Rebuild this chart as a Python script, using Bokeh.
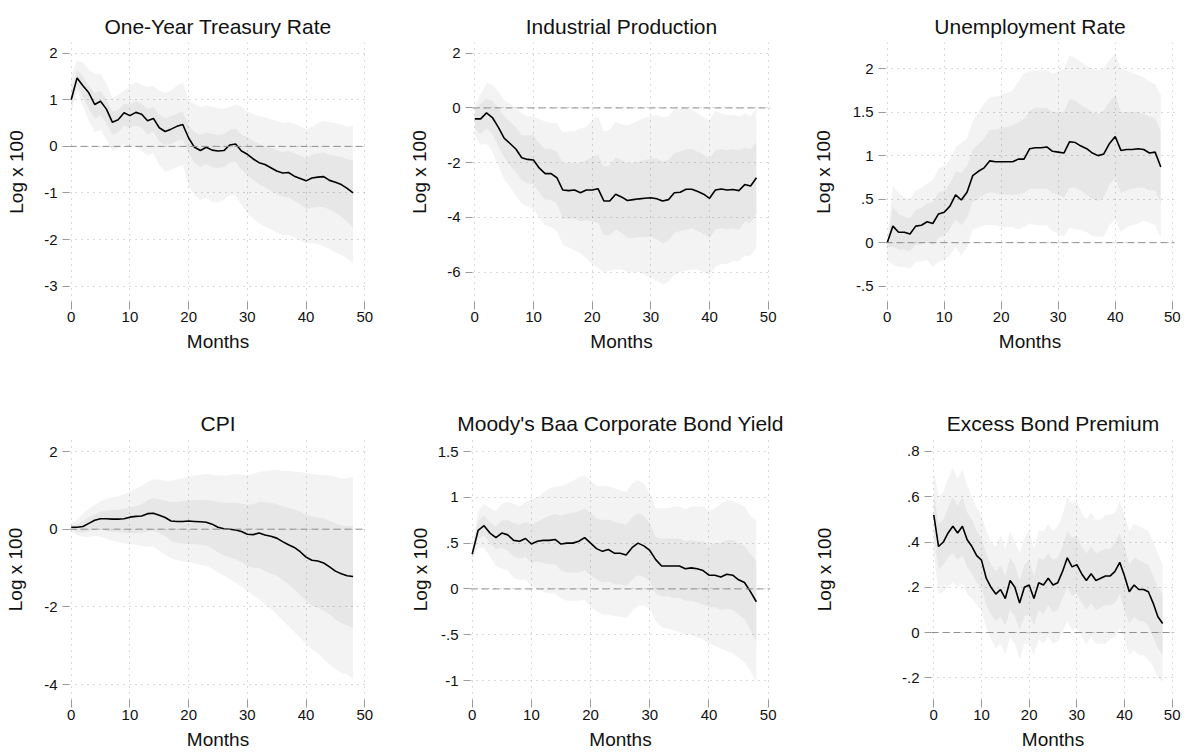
from bokeh.plotting import figure
from bokeh.layouts import column, row
from bokeh.models import FixedTicker, Span, Range1d
from bokeh.embed import file_html
from bokeh.resources import INLINE

months = list(range(49))

# One-Year Treasury Rate
tr_irf = [1.0, 1.47, 1.3, 1.15, 0.9, 0.97, 0.8, 0.52, 0.57, 0.72, 0.66, 0.73, 0.69, 0.55, 0.6, 0.4,
          0.32, 0.37, 0.43, 0.47, 0.18, -0.02, -0.09, -0.02, -0.08, -0.1, -0.09, 0.03, 0.05, -0.1,
          -0.17, -0.27, -0.35, -0.39, -0.46, -0.53, -0.57, -0.56, -0.64, -0.69, -0.74, -0.68, -0.66,
          -0.65, -0.73, -0.77, -0.82, -0.9, -1.0]
tr_hi90 = [1.5, 1.85, 1.8, 1.65, 1.55, 1.55, 1.35, 1.05, 1.1, 1.2, 1.3, 1.38, 1.32, 1.28, 1.3, 1.2,
           1.15, 1.2, 1.3, 1.37, 1.0, 0.9, 0.85, 0.88, 0.85, 0.82, 0.8, 0.85, 0.9, 0.85, 0.75, 0.7,
           0.65, 0.62, 0.58, 0.55, 0.5, 0.52, 0.48, 0.43, 0.37, 0.42, 0.5, 0.55, 0.52, 0.5, 0.47,
           0.42, 0.45]
tr_lo90 = [0.7, 1.2, 0.85, 0.55, 0.3, 0.35, 0.15, -0.1, -0.05, 0.05, -0.02, 0.0, -0.1, -0.2, -0.15,
           -0.4, -0.55, -0.5, -0.45, -0.4, -0.85, -1.05, -1.15, -1.1, -1.2, -1.2, -1.15, -1.05, -1.05,
           -1.25, -1.45, -1.55, -1.65, -1.72, -1.78, -1.85, -1.9, -1.9, -1.95, -2.02, -2.08, -2.07,
           -2.1, -2.15, -2.2, -2.28, -2.33, -2.42, -2.5]
tr_hi68 = [1.2, 1.65, 1.5, 1.3, 1.15, 1.2, 1.0, 0.75, 0.78, 0.92, 0.9, 0.97, 0.92, 0.8, 0.85, 0.68,
           0.6, 0.65, 0.7, 0.75, 0.45, 0.3, 0.25, 0.3, 0.27, 0.25, 0.27, 0.35, 0.38, 0.25, 0.2, 0.12,
           0.05, 0.02, -0.03, -0.08, -0.12, -0.1, -0.15, -0.2, -0.25, -0.18, -0.15, -0.13, -0.18,
           -0.2, -0.22, -0.27, -0.3]
tr_lo68 = [0.85, 1.3, 1.05, 0.8, 0.6, 0.65, 0.5, 0.25, 0.3, 0.45, 0.4, 0.45, 0.4, 0.25, 0.32, 0.1,
           0.02, 0.05, 0.12, 0.15, -0.15, -0.35, -0.45, -0.38, -0.45, -0.47, -0.45, -0.35, -0.33,
           -0.5, -0.62, -0.72, -0.82, -0.88, -0.95, -1.02, -1.08, -1.1, -1.18, -1.25, -1.35, -1.32,
           -1.3, -1.3, -1.36, -1.42, -1.5, -1.62, -1.75]

# Industrial Production
ip_irf = [-0.4, -0.4, -0.18, -0.35, -0.7, -1.1, -1.3, -1.5, -1.82, -1.88, -1.9, -2.2, -2.4, -2.4,
          -2.55, -3.0, -3.02, -3.0, -3.1, -3.0, -3.0, -2.95, -3.4, -3.4, -3.15, -3.25, -3.38, -3.35,
          -3.32, -3.3, -3.28, -3.32, -3.4, -3.35, -3.1, -3.08, -2.97, -2.97, -3.05, -3.15, -3.3,
          -3.0, -2.96, -3.0, -2.98, -3.02, -2.8, -2.85, -2.55]
ip_hi90 = [0.1, 0.5, 0.9, 0.85, 0.6, 0.3, 0.15, 0.0, -0.2, -0.3, -0.3, -0.4, -0.5, -0.55, -0.55,
           -0.9, -0.85, -0.85, -0.75, -0.7, -0.45, -0.3, -0.85, -0.8, -0.5, -0.6, -0.65, -0.55,
           -0.45, -0.35, -0.3, -0.25, -0.35, -0.3, -0.05, 0.0, 0.0, -0.05, -0.2, -0.35, -0.45, -0.1,
           -0.2, -0.25, -0.25, -0.3, -0.2, -0.3, 0.0]
ip_lo90 = [-1.0, -1.35, -1.3, -1.6, -2.1, -2.6, -2.9, -3.2, -3.5, -3.6, -3.7, -4.0, -4.3, -4.35,
           -4.5, -5.0, -5.1, -5.2, -5.3, -5.5, -5.7, -5.85, -6.0, -5.95, -5.9, -5.9, -6.0, -6.0,
           -6.0, -6.1, -6.2, -6.3, -6.45, -6.35, -6.1, -6.0, -5.95, -5.9, -5.9, -6.0, -6.1, -5.8,
           -5.7, -5.7, -5.6, -5.6, -5.4, -5.4, -5.1]
ip_hi68 = [-0.05, 0.15, 0.35, 0.25, 0.0, -0.3, -0.5, -0.7, -1.0, -1.0, -1.0, -1.3, -1.5, -1.5,
           -1.6, -2.0, -2.0, -2.0, -2.0, -1.9, -1.8, -1.7, -2.15, -2.1, -1.8, -1.9, -2.0, -2.0,
           -1.95, -1.9, -1.85, -1.85, -1.95, -1.9, -1.65, -1.6, -1.5, -1.5, -1.6, -1.7, -1.85,
           -1.55, -1.5, -1.55, -1.5, -1.55, -1.45, -1.5, -1.25]
ip_lo68 = [-0.75, -0.95, -0.75, -0.95, -1.4, -1.8, -2.1, -2.35, -2.65, -2.75, -2.8, -3.1, -3.35,
           -3.35, -3.5, -4.05, -4.05, -4.05, -4.15, -4.1, -4.15, -4.2, -4.65, -4.65, -4.45, -4.55,
           -4.75, -4.75, -4.72, -4.72, -4.7, -4.8, -4.95, -4.85, -4.55, -4.5, -4.45, -4.4, -4.5,
           -4.6, -4.75, -4.45, -4.4, -4.45, -4.4, -4.45, -4.15, -4.2, -3.85]

# Unemployment Rate
ur_irf = [0.0, 0.19, 0.12, 0.12, 0.1, 0.19, 0.2, 0.24, 0.22, 0.33, 0.35, 0.42, 0.55, 0.49, 0.58,
          0.77, 0.82, 0.86, 0.94, 0.93, 0.93, 0.93, 0.93, 0.96, 0.96, 1.08, 1.09, 1.09, 1.1, 1.05,
          1.04, 1.03, 1.16, 1.15, 1.11, 1.08, 1.03, 1.0, 1.02, 1.14, 1.22, 1.06, 1.07, 1.07, 1.08,
          1.07, 1.03, 1.04, 0.87]
ur_hi90 = [0.05, 0.65, 0.57, 0.52, 0.5, 0.6, 0.63, 0.68, 0.72, 0.85, 0.88, 0.95, 1.1, 1.15, 1.2,
           1.4, 1.5, 1.6, 1.67, 1.68, 1.7, 1.72, 1.75, 1.85, 1.95, 1.97, 1.98, 1.98, 1.98, 1.95,
           1.96, 2.0, 2.15, 2.12, 2.08, 2.03, 2.0, 1.98, 2.0, 2.1, 2.17, 2.0, 1.98, 1.95, 1.93, 1.9,
           1.85, 1.82, 1.7]
ur_lo90 = [-0.2, -0.25, -0.28, -0.28, -0.3, -0.22, -0.22, -0.2, -0.28, -0.22, -0.2, -0.15, -0.05,
           -0.15, -0.05, 0.15, 0.17, 0.2, 0.2, 0.2, 0.18, 0.18, 0.18, 0.15, 0.18, 0.22, 0.2, 0.2,
           0.2, 0.13, 0.1, 0.07, 0.17, 0.15, 0.15, 0.12, 0.07, 0.07, 0.07, 0.2, 0.27, 0.12, 0.18,
           0.2, 0.22, 0.25, 0.23, 0.2, 0.05]
ur_hi68 = [0.0, 0.42, 0.33, 0.3, 0.28, 0.38, 0.4, 0.45, 0.47, 0.58, 0.6, 0.68, 0.82, 0.8, 0.88,
           1.07, 1.13, 1.2, 1.3, 1.3, 1.32, 1.33, 1.35, 1.38, 1.42, 1.52, 1.55, 1.55, 1.55, 1.5,
           1.5, 1.5, 1.65, 1.63, 1.58, 1.55, 1.5, 1.48, 1.52, 1.62, 1.7, 1.5, 1.5, 1.5, 1.5, 1.48,
           1.45, 1.43, 1.28]
ur_lo68 = [-0.05, -0.05, -0.08, -0.08, -0.1, -0.02, -0.02, 0.02, -0.03, 0.05, 0.08, 0.15, 0.27,
           0.2, 0.28, 0.47, 0.5, 0.55, 0.58, 0.57, 0.55, 0.55, 0.55, 0.55, 0.57, 0.62, 0.62, 0.62,
           0.62, 0.57, 0.55, 0.52, 0.63, 0.63, 0.6, 0.55, 0.5, 0.48, 0.52, 0.67, 0.74, 0.57, 0.6,
           0.62, 0.63, 0.63, 0.6, 0.6, 0.45]

# CPI
cpi_irf = [0.05, 0.05, 0.07, 0.15, 0.23, 0.27, 0.27, 0.26, 0.26, 0.27, 0.31, 0.33, 0.34, 0.4, 0.41,
           0.36, 0.3, 0.21, 0.2, 0.2, 0.21, 0.2, 0.19, 0.18, 0.13, 0.05, 0.01, 0.0, -0.02, -0.06,
           -0.13, -0.14, -0.1, -0.15, -0.18, -0.23, -0.32, -0.4, -0.47, -0.58, -0.72, -0.8, -0.82,
           -0.87, -0.97, -1.08, -1.15, -1.2, -1.22]
cpi_hi90 = [0.15, 0.25, 0.4, 0.52, 0.62, 0.72, 0.78, 0.82, 0.85, 0.9, 0.98, 1.05, 1.12, 1.22, 1.28,
            1.28, 1.25, 1.25, 1.28, 1.32, 1.35, 1.38, 1.4, 1.42, 1.4, 1.38, 1.38, 1.4, 1.42, 1.4,
            1.38, 1.42, 1.48, 1.5, 1.52, 1.53, 1.5, 1.5, 1.48, 1.47, 1.45, 1.42, 1.4, 1.4, 1.38,
            1.35, 1.3, 1.32, 1.35]
cpi_lo90 = [-0.05, -0.15, -0.2, -0.2, -0.17, -0.2, -0.25, -0.3, -0.33, -0.37, -0.38, -0.4, -0.43,
            -0.45, -0.45, -0.55, -0.65, -0.75, -0.8, -0.83, -0.85, -0.88, -0.92, -0.95, -1.02,
            -1.12, -1.2, -1.28, -1.38, -1.48, -1.6, -1.7, -1.8, -1.95, -2.05, -2.2, -2.35, -2.5,
            -2.65, -2.8, -2.95, -3.1, -3.2, -3.35, -3.5, -3.6, -3.7, -3.75, -3.85]
cpi_hi68 = [0.1, 0.12, 0.22, 0.3, 0.38, 0.45, 0.48, 0.5, 0.5, 0.52, 0.56, 0.6, 0.64, 0.75, 0.8,
            0.78, 0.74, 0.7, 0.7, 0.72, 0.74, 0.75, 0.75, 0.76, 0.74, 0.7, 0.68, 0.68, 0.68, 0.66,
            0.63, 0.65, 0.7, 0.7, 0.68, 0.65, 0.6, 0.55, 0.5, 0.45, 0.38, 0.33, 0.3, 0.28, 0.22,
            0.15, 0.1, 0.08, 0.08]
cpi_lo68 = [0.0, -0.08, -0.1, -0.05, 0.0, 0.0, -0.05, -0.07, -0.08, -0.1, -0.1, -0.1, -0.1, -0.05,
            -0.05, -0.1, -0.18, -0.3, -0.35, -0.37, -0.38, -0.38, -0.4, -0.42, -0.5, -0.6, -0.68,
            -0.73, -0.78, -0.85, -0.95, -1.0, -1.0, -1.08, -1.15, -1.2, -1.3, -1.42, -1.55, -1.7,
            -1.85, -1.97, -2.02, -2.1, -2.2, -2.33, -2.42, -2.48, -2.55]

# Moody's Baa Corporate Bond Yield
baa_irf = [0.38, 0.64, 0.69, 0.61, 0.56, 0.61, 0.59, 0.53, 0.52, 0.55, 0.49, 0.52, 0.53, 0.53,
           0.54, 0.49, 0.5, 0.5, 0.52, 0.56, 0.5, 0.44, 0.41, 0.43, 0.39, 0.39, 0.37, 0.45, 0.5,
           0.47, 0.42, 0.32, 0.25, 0.25, 0.25, 0.25, 0.22, 0.23, 0.22, 0.2, 0.15, 0.15, 0.13, 0.16,
           0.15, 0.1, 0.07, -0.03, -0.14]
baa_hi90 = [0.45, 0.85, 0.93, 0.88, 0.85, 0.93, 0.95, 0.93, 0.9, 0.95, 0.98, 1.0, 1.05, 1.1, 1.12,
            1.12, 1.15, 1.18, 1.22, 1.24, 1.18, 1.13, 1.12, 1.12, 1.1, 1.08, 1.06, 1.15, 1.19,
            1.15, 1.05, 0.88, 0.88, 0.88, 0.9, 0.9, 0.87, 0.9, 0.9, 0.9, 0.85, 0.88, 0.93, 0.97,
            0.96, 0.93, 0.9, 0.8, 0.75]
baa_lo90 = [0.3, 0.45, 0.45, 0.35, 0.25, 0.22, 0.2, 0.12, 0.1, 0.1, 0.03, 0.0, -0.03, -0.05,
            -0.05, -0.1, -0.13, -0.13, -0.13, -0.12, -0.2, -0.25, -0.28, -0.28, -0.3, -0.3, -0.32,
            -0.25, -0.18, -0.18, -0.22, -0.35, -0.42, -0.43, -0.45, -0.47, -0.5, -0.5, -0.53, -0.55,
            -0.6, -0.62, -0.65, -0.68, -0.7, -0.75, -0.8, -0.9, -1.02]
baa_hi68 = [0.4, 0.75, 0.8, 0.73, 0.68, 0.75, 0.75, 0.72, 0.7, 0.73, 0.7, 0.73, 0.77, 0.8, 0.82,
            0.8, 0.82, 0.83, 0.85, 0.88, 0.83, 0.77, 0.75, 0.76, 0.73, 0.72, 0.7, 0.78, 0.83, 0.8,
            0.72, 0.57, 0.55, 0.55, 0.55, 0.55, 0.52, 0.53, 0.52, 0.52, 0.48, 0.5, 0.5, 0.53, 0.53,
            0.5, 0.47, 0.38, 0.3]
baa_lo68 = [0.35, 0.55, 0.58, 0.5, 0.43, 0.45, 0.42, 0.35, 0.33, 0.35, 0.28, 0.3, 0.28, 0.27,
            0.27, 0.2, 0.18, 0.18, 0.18, 0.2, 0.15, 0.1, 0.07, 0.08, 0.05, 0.05, 0.03, 0.1, 0.15,
            0.13, 0.08, -0.05, -0.08, -0.08, -0.1, -0.1, -0.13, -0.13, -0.15, -0.17, -0.2, -0.2,
            -0.23, -0.22, -0.23, -0.28, -0.33, -0.45, -0.58]

# Excess Bond Premium
ebp_irf = [0.52, 0.38, 0.4, 0.44, 0.47, 0.44, 0.47, 0.41, 0.38, 0.34, 0.32, 0.24, 0.2, 0.17, 0.19,
           0.15, 0.23, 0.2, 0.13, 0.2, 0.21, 0.15, 0.22, 0.21, 0.24, 0.21, 0.22, 0.27, 0.33, 0.29,
           0.3, 0.26, 0.23, 0.26, 0.23, 0.24, 0.25, 0.25, 0.27, 0.31, 0.25, 0.18, 0.21, 0.19, 0.19,
           0.18, 0.13, 0.07, 0.04]
ebp_hi90 = [0.72, 0.6, 0.62, 0.68, 0.73, 0.68, 0.72, 0.65, 0.6, 0.55, 0.52, 0.45, 0.4, 0.38, 0.43,
            0.37, 0.45, 0.4, 0.35, 0.42, 0.45, 0.37, 0.45, 0.45, 0.48, 0.45, 0.47, 0.52, 0.6, 0.57,
            0.58, 0.53, 0.5, 0.53, 0.5, 0.5, 0.52, 0.52, 0.53, 0.58, 0.52, 0.45, 0.48, 0.47, 0.46,
            0.45, 0.4, 0.35, 0.3]
ebp_lo90 = [0.35, 0.17, 0.18, 0.2, 0.22, 0.2, 0.22, 0.17, 0.15, 0.12, 0.1, 0.02, -0.03, -0.07,
            -0.05, -0.1, -0.02, -0.05, -0.12, -0.05, -0.05, -0.1, -0.03, -0.05, -0.02, -0.05,
            -0.04, 0.0, 0.05, 0.01, 0.02, -0.02, -0.05, -0.02, -0.05, -0.05, -0.05, -0.03, -0.02,
            0.02, -0.03, -0.1, -0.08, -0.1, -0.1, -0.12, -0.15, -0.2, -0.22]
ebp_hi68 = [0.62, 0.48, 0.5, 0.55, 0.6, 0.56, 0.6, 0.53, 0.5, 0.45, 0.42, 0.35, 0.3, 0.27, 0.3,
            0.25, 0.33, 0.3, 0.23, 0.3, 0.32, 0.25, 0.33, 0.32, 0.35, 0.32, 0.33, 0.38, 0.45, 0.42,
            0.43, 0.38, 0.35, 0.38, 0.35, 0.36, 0.37, 0.37, 0.4, 0.44, 0.38, 0.3, 0.33, 0.32, 0.31,
            0.3, 0.25, 0.2, 0.17]
ebp_lo68 = [0.43, 0.28, 0.3, 0.33, 0.35, 0.32, 0.34, 0.29, 0.26, 0.22, 0.2, 0.12, 0.08, 0.05,
            0.07, 0.03, 0.1, 0.07, 0.01, 0.07, 0.08, 0.03, 0.1, 0.08, 0.12, 0.09, 0.1, 0.15, 0.2,
            0.16, 0.17, 0.13, 0.1, 0.13, 0.1, 0.11, 0.12, 0.12, 0.13, 0.17, 0.1, 0.04, 0.07, 0.05,
            0.05, 0.03, -0.02, -0.07, -0.1]

x_ticks = [0, 10, 20, 30, 40, 50]
tr_yticks = [-3, -2, -1, 0, 1, 2]
tr_ylabels = ["-3", "-2", "-1", "0", "1", "2"]
ip_yticks = [-6, -4, -2, 0, 2]
ip_ylabels = ["-6", "-4", "-2", "0", "2"]
ur_yticks = [-0.5, 0, 0.5, 1, 1.5, 2]
ur_ylabels = ["-.5", "0", ".5", "1", "1.5", "2"]
cpi_yticks = [-4, -2, 0, 2]
cpi_ylabels = ["-4", "-2", "0", "2"]
baa_yticks = [-1, -0.5, 0, 0.5, 1, 1.5]
baa_ylabels = ["-1", "-.5", "0", ".5", "1", "1.5"]
ebp_yticks = [-0.2, 0, 0.2, 0.4, 0.6, 0.8]
ebp_ylabels = ["-.2", "0", ".2", ".4", ".6", ".8"]

FONT = "Liberation Sans"


def panel(title, irf, lo90, hi90, lo68, hi68, yticks, ylabels, yr, xr,
          width, height, left, right, top, bottom, ylab_standoff):
    p = figure(width=width, height=height, output_backend="svg", toolbar_location=None,
               x_range=Range1d(*xr), y_range=Range1d(*yr),
               min_border_left=left, min_border_right=right,
               min_border_top=top, min_border_bottom=bottom)
    p.outline_line_color = None
    p.background_fill_color = "white"
    p.border_fill_color = "white"

    p.title.text = title
    p.title.align = "center"
    p.title.text_font = FONT
    p.title.text_font_size = "21px"
    p.title.text_font_style = "normal"
    p.title.text_color = "#111111"
    p.title.standoff = 10

    # confidence bands (outer 90%, inner 68%)
    p.varea(x=months, y1=lo90, y2=hi90, fill_color="black", fill_alpha=0.048)
    p.varea(x=months, y1=lo68, y2=hi68, fill_color="black", fill_alpha=0.048)
    p.add_layout(Span(location=0, dimension="width", line_color="#8f8f8f",
                      line_dash="7 4", line_width=1))
    p.line(months, irf, line_color="black", line_width=1.6)

    p.xaxis.ticker = FixedTicker(ticks=x_ticks)
    p.yaxis.ticker = FixedTicker(ticks=yticks)
    p.yaxis.major_label_overrides = {t: s for t, s in zip(yticks, ylabels)}
    for ax in (p.xaxis, p.yaxis):
        ax.axis_line_color = None
        ax.major_tick_line_color = "#9a9a9a"
        ax.major_tick_out = 7
        ax.major_tick_in = 0
        ax.minor_tick_line_color = None
        ax.major_label_text_font = FONT
        ax.major_label_text_font_size = "15px"
        ax.major_label_text_color = "#111111"
        ax.axis_label_text_font = FONT
        ax.axis_label_text_font_size = "19px"
        ax.axis_label_text_font_style = "normal"
        ax.axis_label_text_color = "#111111"
    p.xaxis.major_tick_out = 8
    p.xaxis.major_label_standoff = 2
    p.yaxis.major_label_standoff = 5
    p.xaxis.axis_label = "Months"
    p.xaxis.axis_label_standoff = 6
    p.yaxis.axis_label = "Log x 100"
    p.yaxis.axis_label_standoff = ylab_standoff

    for g in (p.xgrid, p.ygrid):
        g.grid_line_color = "#b5b5b5"
        g.grid_line_dash = "1 5"
        g.grid_line_width = 1
    return p


f1 = panel("One-Year Treasury Rate", tr_irf, tr_lo90, tr_hi90, tr_lo68, tr_hi68,
           tr_yticks, tr_ylabels, (-3.33, 2.23), (-0.29, 50.29),
           400, 390, 69, 34, 42, 89, 14)
f2 = panel("Industrial Production", ip_irf, ip_lo90, ip_hi90, ip_lo68, ip_hi68,
           ip_yticks, ip_ylabels, (-7.07, 2.39), (-0.39, 50.39),
           400, 390, 72, 30, 42, 89, 14)
f3 = panel("Unemployment Rate", ur_irf, ur_lo90, ur_hi90, ur_lo68, ur_hi68,
           ur_yticks, ur_ylabels, (-0.676, 2.30), (-0.30, 50.40),
           384, 390, 85, 10, 42, 89, 16)
f4 = panel("CPI", cpi_irf, cpi_lo90, cpi_hi90, cpi_lo68, cpi_hi68,
           cpi_yticks, cpi_ylabels, (-4.386, 2.31), (-0.29, 50.29),
           400, 363, 69, 34, 49, 54, 15)
f5 = panel("Moody's Baa Corporate Bond Yield", baa_irf, baa_lo90, baa_hi90, baa_lo68, baa_hi68,
           baa_yticks, baa_ylabels, (-1.207, 1.631), (-0.29, 50.39),
           400, 363, 70, 30, 49, 54, 4)
f6 = panel("Excess Bond Premium", ebp_irf, ebp_lo90, ebp_hi90, ebp_lo68, ebp_hi68,
           ebp_yticks, ebp_ylabels, (-0.296, 0.853), (-0.48, 50.48),
           384, 363, 131, 10, 49, 54, 64)

layout = column(row(f1, f2, f3), row(f4, f5, f6))

open("out.html", "w").write(file_html(layout, INLINE))
